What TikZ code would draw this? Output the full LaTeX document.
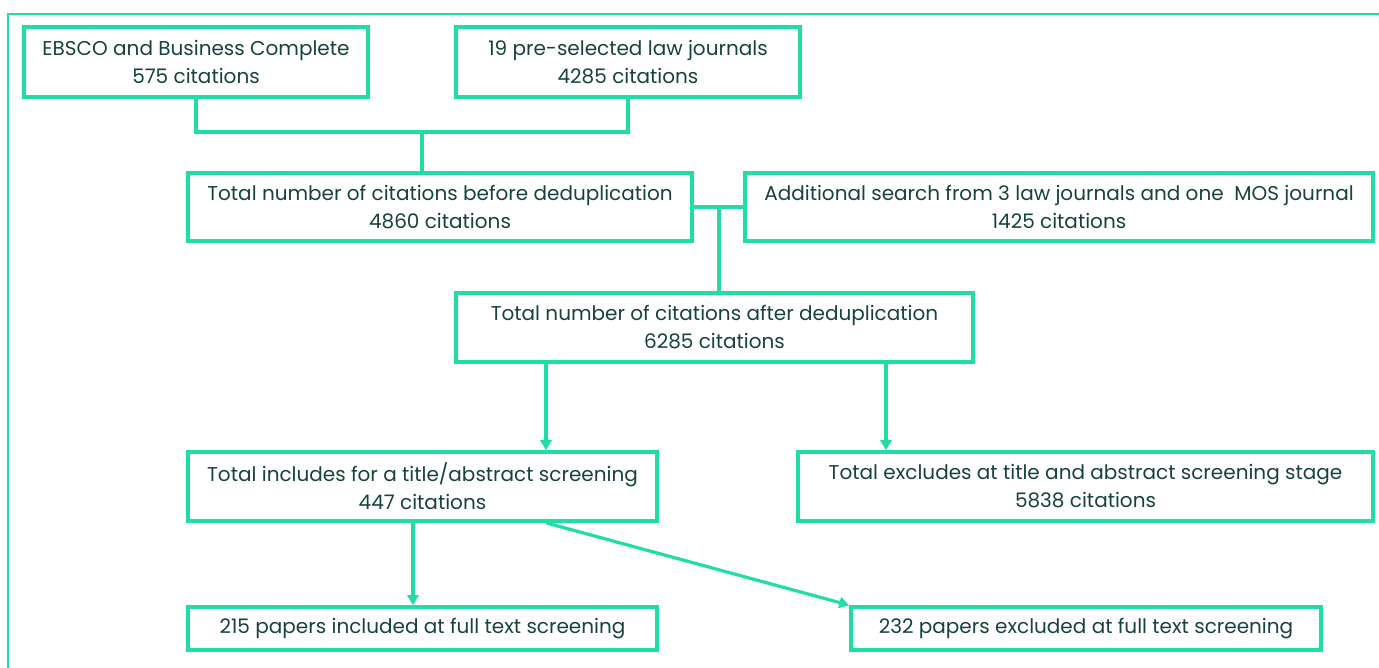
\documentclass[tikz,border=0pt]{standalone}
\usepackage{fontspec}
\setmainfont{Poppins}
\usetikzlibrary{arrows.meta,calc}
\definecolor{mint}{HTML}{1FDDA5}
\definecolor{ink}{HTML}{17423E}
\tikzset{
  box/.style={draw=mint,line width=1.8pt,inner sep=0pt,align=center,text=ink,
    font=\fontsize{10}{14}\selectfont},
  link/.style={draw=mint,line width=1.6pt},
  arr/.style={link,-{Triangle[length=5pt,width=5.5pt]}},
}
\begin{document}
\begin{tikzpicture}[x=0.5pt,y=-0.5pt]
\useasboundingbox (0,0) rectangle (1379,668);
\draw[mint,line width=0.8pt] (8,700) -- (8,14) -- (1400,14);
\node[box,minimum width=172pt,minimum height=35pt] (b1) at (196,62) {EBSCO and Business Complete\\575 citations};
\node[box,minimum width=172pt,minimum height=35pt] (b2) at (628,62) {19 pre-selected law journals\\4285 citations};
\node[box,minimum width=252pt,minimum height=34pt] (b3) at (440,207) {Total number of citations before deduplication\\4860 citations};
\node[box,minimum width=314pt,minimum height=34pt] (b4) at (1059,207) {Additional search from 3 law journals and one\ \ MOS journal\\1425 citations};
\node[box,minimum width=258.5pt,minimum height=34.5pt] (b5) at (714.5,327.5) {Total number of citations after deduplication\\6285 citations};
\node[box,minimum width=234.5pt,minimum height=34.5pt] (b6) at (422.5,486.5) {Total includes for a title/abstract screening\\447 citations};
\node[box,minimum width=287.5pt,minimum height=34.5pt] (b7) at (1085.5,486.5) {Total excludes at title and abstract screening stage\\5838 citations};
\node[box,minimum width=234.5pt,minimum height=21.5pt] (b8) at (422.5,628.5) {215 papers included at full text screening};
\node[box,minimum width=235pt,minimum height=21.5pt] (b9) at (1086,628.5) {232 papers excluded at full text screening};
\coordinate (j1) at (422,132);
\coordinate (j2) at (719,208);
\coordinate (a1) at (546,0);
\coordinate (a2) at (886,0);
\coordinate (a3) at (413,0);
\draw[link] (b1.south) |- (j1) -| (b2.south);
\draw[link] (j1) -- (j1 |- b3.north);
\draw[link] (b3.east) -- (b4.west);
\draw[link] (j2) -- (j2 |- b5.north);
\draw[arr] (b5.south -| a1) -- (b6.north -| a1);
\draw[arr] (b5.south -| a2) -- (b7.north -| a2);
\draw[arr] (b6.south -| a3) -- (b8.north -| a3);
\draw[arr] (b6.south -| a1) -- (b9.north west);
\end{tikzpicture}
\end{document}
